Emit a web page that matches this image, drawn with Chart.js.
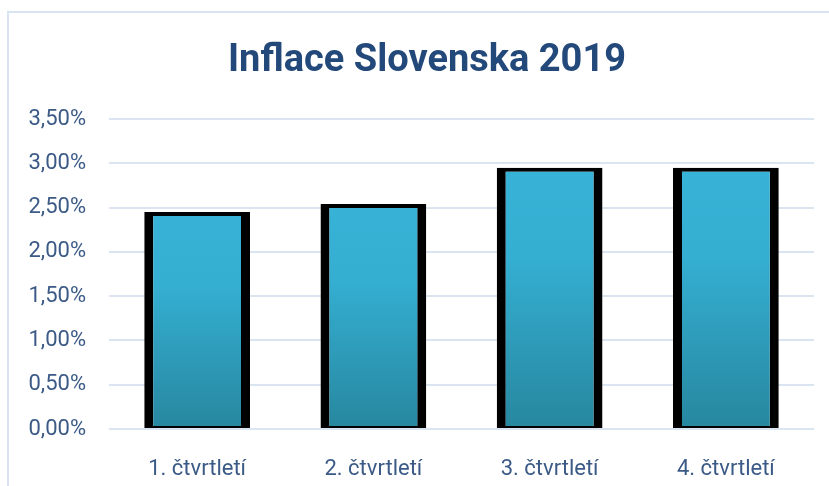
<!DOCTYPE html>
<html lang="cs">
<head>
    <meta charset="UTF-8">
    <title>Inflace Slovenska 2019</title>
    <script src="https://cdn.jsdelivr.net/npm/chart.js"></script>
    <style>
        html, body {
            margin: 0;
            padding: 0;
            background: #ffffff;
        }
        .chart-box {
            width: 829px;
            height: 486px;
            position: relative;
        }
    </style>
</head>
<body>
    <div class="chart-box">
        <canvas id="inflationChart"></canvas>
    </div>

    <script>
        const quarters = ['1. čtvrtletí', '2. čtvrtletí', '3. čtvrtletí', '4. čtvrtletí'];
        const inflation = [2.45, 2.54, 2.95, 2.95];
        const yTicks = [0, 0.5, 1, 1.5, 2, 2.5, 3, 3.5];
        const chartTitle = 'Inflace Slovenska 2019';

        const fontName = "Roboto, 'Noto Sans', sans-serif";

        // light blue frame around the chart (cut off on the right and bottom like the original)
        // and the title, which sits a bit right of the canvas centre
        const framePlugin = {
            id: 'frame',
            beforeDraw(chart) {
                const ctx = chart.ctx;
                ctx.save();
                ctx.strokeStyle = '#d9e4f2';
                ctx.lineWidth = 2;
                ctx.strokeRect(8, 12, 900, 600);
                ctx.restore();
            },
            afterDraw(chart) {
                const ctx = chart.ctx;
                ctx.save();
                ctx.fillStyle = '#23497b';
                ctx.font = "bold 38px " + fontName;
                ctx.textAlign = 'center';
                ctx.textBaseline = 'middle';
                ctx.fillText(chartTitle, 427, 61);
                ctx.restore();
            }
        };

        function barGradient(context) {
            const chart = context.chart;
            if (!chart.chartArea) return '#33acd0';
            const yScale = chart.scales.y;
            const top = yScale.getPixelForValue(context.raw);
            const bottom = yScale.getPixelForValue(0);
            const g = chart.ctx.createLinearGradient(0, top, 0, bottom);
            g.addColorStop(0, '#37b3d7');
            g.addColorStop(0.35, '#34aed1');
            g.addColorStop(1, '#27879f');
            return g;
        }

        new Chart(document.getElementById('inflationChart').getContext('2d'), {
            type: 'bar',
            data: {
                labels: quarters,
                datasets: [{
                    label: 'Inflace',
                    data: inflation,
                    backgroundColor: barGradient,
                    borderColor: '#000000',
                    borderWidth: { top: 4, left: 9, right: 9, bottom: 2 },
                    borderSkipped: false,
                    barPercentage: 0.6,
                    categoryPercentage: 1
                }]
            },
            options: {
                responsive: true,
                maintainAspectRatio: false,
                animation: false,
                layout: {
                    padding: { left: 0, right: 15, top: 119, bottom: 0 }
                },
                scales: {
                    y: {
                        min: 0,
                        max: 3.5,
                        afterBuildTicks: scale => {
                            scale.ticks = yTicks.map(v => ({ value: v }));
                        },
                        afterFit: scale => {
                            scale.width = 109;
                        },
                        border: { display: false },
                        grid: {
                            color: '#dbe5f2',
                            lineWidth: 2,
                            drawTicks: false
                        },
                        ticks: {
                            padding: 23,
                            color: '#3b5a86',
                            font: { family: fontName, size: 22 },
                            callback: value => value.toFixed(2).replace('.', ',') + '%'
                        }
                    },
                    x: {
                        afterFit: scale => {
                            scale.height = 57;
                        },
                        border: { display: false },
                        grid: { display: false },
                        ticks: {
                            padding: 19,
                            color: '#3b5a86',
                            font: { family: fontName, size: 22 }
                        }
                    }
                },
                plugins: {
                    legend: { display: false },
                    tooltip: { enabled: false },
                    title: { display: false }
                }
            },
            plugins: [framePlugin]
        });
    </script>
</body>
</html>
